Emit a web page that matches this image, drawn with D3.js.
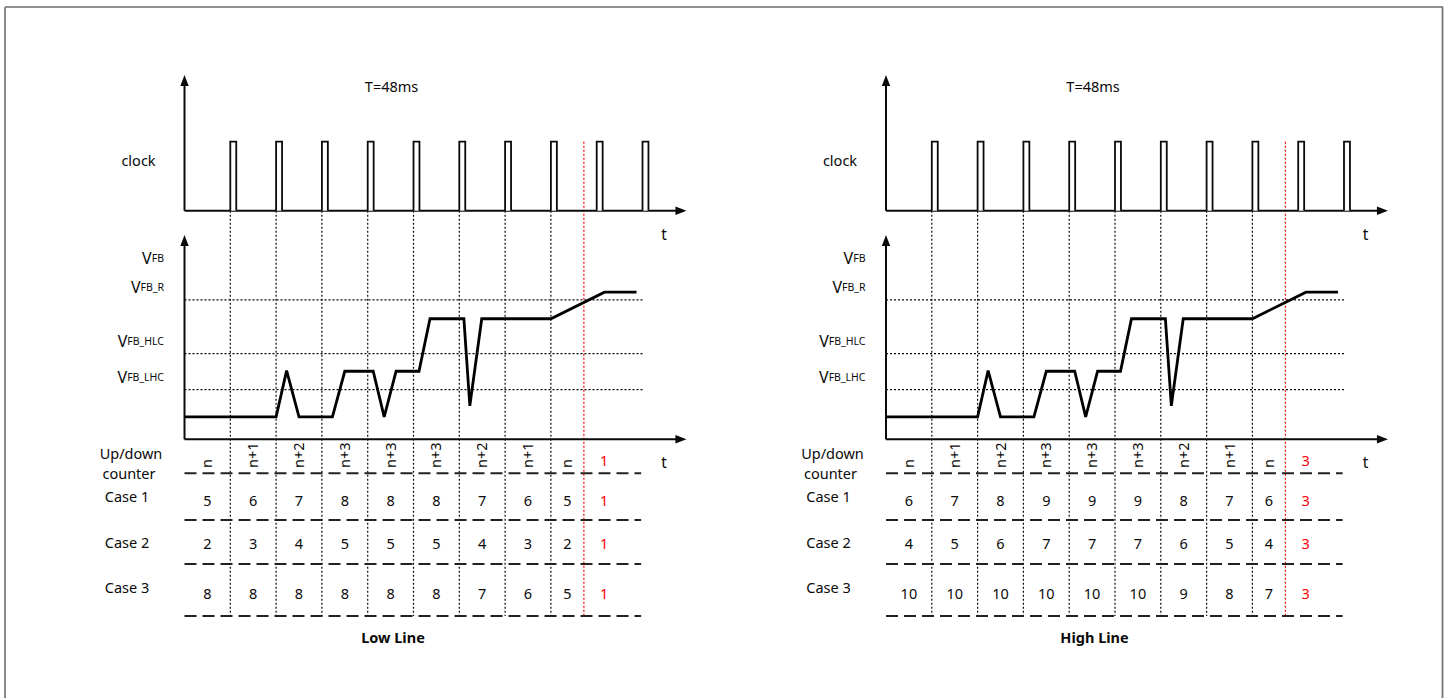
<!DOCTYPE html>
<html>
<head>
<meta charset="utf-8">
<script src="https://cdn.jsdelivr.net/npm/d3@7"></script>
<style>
  html, body { margin: 0; padding: 0; background: #fff; }
  svg { display: block; font-family: "Noto Sans", "Open Sans", sans-serif; }
</style>
</head>
<body>
<svg id="chart" width="1447" height="698"></svg>
<script>
// ---- data -------------------------------------------------------------
// rising edges of the sampling clock, in clock periods
const clockEdges = [1, 2, 3, 4, 5, 6, 7, 8, 9, 10];
// moment the counter is reset (red marker), in clock periods
const resetTime = 8.72;
// VFB trace: time (clock periods) and level (arbitrary units 0..100)
const vfbTime  = [0, 2, 2.23, 2.5, 3.23, 3.5, 4.12, 4.36, 4.62, 5.12, 5.36, 6.1, 6.23, 6.49, 8.0, 9.17, 9.87];
const vfbLevel = [11, 11, 33.6, 11, 11, 33.3, 33.3, 11, 33.3, 33.3, 59, 59, 16.4, 59, 59, 72, 72];
// comparator thresholds
const thresholdNames  = ["FB_R", "FB_HLC", "FB_LHC"];
const thresholdLevels = [68.2, 41.9, 24.3];
// up/down counter states per clock period
const counterLabels = ["n", "n+1", "n+2", "n+3", "n+3", "n+3", "n+2", "n+1", "n"];
const caseNames = ["Case 1", "Case 2", "Case 3"];
// low line counter values
const lowCase1 = [5, 6, 7, 8, 8, 8, 7, 6, 5];
const lowCase2 = [2, 3, 4, 5, 5, 5, 4, 3, 2];
const lowCase3 = [8, 8, 8, 8, 8, 8, 7, 6, 5];
const lowReset = 1;
// high line counter values
const highCase1 = [6, 7, 8, 9, 9, 9, 8, 7, 6];
const highCase2 = [4, 5, 6, 7, 7, 7, 6, 5, 4];
const highCase3 = [10, 10, 10, 10, 10, 10, 9, 8, 7];
const highReset = 3;
const panelTitles = ["Low Line", "High Line"];
const periodLabel = "T=48ms";

// ---- layout -----------------------------------------------------------
const svg = d3.select("#chart");
const INK = "#0a0a0a";
const RED = "#ff0000";

// outer frame
svg.append("line").attr("x1", 5).attr("x2", 1443).attr("y1", 7).attr("y2", 7)
  .attr("stroke", "#222").attr("stroke-width", 1.2);
svg.append("line").attr("x1", 5).attr("x2", 5).attr("y1", 7).attr("y2", 698)
  .attr("stroke", "#888").attr("stroke-width", 2);
svg.append("line").attr("x1", 1442.5).attr("x2", 1442.5).attr("y1", 7).attr("y2", 698)
  .attr("stroke", "#777").attr("stroke-width", 1.8);

// time axis shared by the clock, VFB and counter table
const x = d3.scaleLinear().domain([0, 11]).range([184.5, 184.5 + 11 * 45.8]);
const tEnd = 10.96;          // arrow tip
// clock panel
const yClock = d3.scaleLinear().domain([0, 1]).range([210.7, 141.7]);
const clockTop = 75;
// VFB panel
const yV = d3.scaleLinear().domain([0, 100]).range([439.3, 235]);
// counter table rows
const rowLines = [473.3, 520, 564, 616];
const rowCenters = [500, 543.3, 593.3];
const caseLabelY = [496, 541.7, 586.7];
// column boundaries (clock periods) of the counter table
const colBounds = [0, 1, 2, 3, 4, 5, 6, 7, 8, resetTime, 9.6];
const colCenters = d3.range(colBounds.length - 1).map(i => (colBounds[i] + colBounds[i + 1]) / 2);

function arrowUp(g, px, py) {
  g.append("path").attr("d", `M${px},${py} L${px - 4.2},${py + 11} L${px + 4.2},${py + 11} Z`).attr("fill", INK);
}
function arrowRight(g, px, py) {
  g.append("path").attr("d", `M${px},${py} L${px - 11},${py - 4.2} L${px - 11},${py + 4.2} Z`).attr("fill", INK);
}

function drawPanel(offset, cases, resetValue, title) {
  const g = svg.append("g").attr("transform", `translate(${offset},0)`);
  const x0 = x(0);

  // dotted clock-edge markers running through every panel
  g.selectAll("line.edge").data(clockEdges.slice(0, 8)).join("line")
    .attr("class", "edge")
    .attr("x1", d => x(d)).attr("x2", d => x(d))
    .attr("y1", yClock(0)).attr("y2", rowLines[3])
    .attr("stroke", INK).attr("stroke-width", 1.2).attr("stroke-dasharray", "2,2");

  // reset marker
  g.append("line")
    .attr("x1", x(resetTime)).attr("x2", x(resetTime))
    .attr("y1", yClock(1)).attr("y2", rowLines[3])
    .attr("stroke", RED).attr("stroke-width", 1.2).attr("stroke-dasharray", "2,2");

  // threshold lines
  g.selectAll("line.th").data(thresholdLevels).join("line")
    .attr("class", "th")
    .attr("x1", x0).attr("x2", x(10))
    .attr("y1", d => yV(d)).attr("y2", d => yV(d))
    .attr("stroke", INK).attr("stroke-width", 1.2).attr("stroke-dasharray", "2,2");

  // table row separators
  g.selectAll("line.row").data(rowLines).join("line")
    .attr("class", "row")
    .attr("x1", x0).attr("x2", x(9.97))
    .attr("y1", d => d).attr("y2", d => d)
    .attr("stroke", "#222").attr("stroke-width", 2).attr("stroke-dasharray", "12,6");

  // clock axes
  g.append("line").attr("x1", x0).attr("x2", x0).attr("y1", yClock(0)).attr("y2", clockTop + 4)
    .attr("stroke", INK).attr("stroke-width", 2);
  arrowUp(g, x0, clockTop);
  g.append("line").attr("x1", x0).attr("x2", x(tEnd) - 4).attr("y1", yClock(0)).attr("y2", yClock(0))
    .attr("stroke", INK).attr("stroke-width", 2);
  arrowRight(g, x(tEnd), yClock(0));

  // clock pulses
  const pw = 0.13;
  g.selectAll("path.pulse").data(clockEdges).join("path")
    .attr("class", "pulse")
    .attr("d", d => `M${x(d)},${yClock(0)} V${yClock(1)} H${x(d + pw)} V${yClock(0)}`)
    .attr("fill", "#fff").attr("stroke", INK).attr("stroke-width", 1.8);

  // VFB axes
  g.append("line").attr("x1", x0).attr("x2", x0).attr("y1", yV(0)).attr("y2", yV(100) + 4)
    .attr("stroke", INK).attr("stroke-width", 2);
  arrowUp(g, x0, yV(100));
  g.append("line").attr("x1", x0).attr("x2", x(tEnd) - 4).attr("y1", yV(0)).attr("y2", yV(0))
    .attr("stroke", INK).attr("stroke-width", 2);
  arrowRight(g, x(tEnd), yV(0));

  // VFB trace
  const trace = vfbTime.map((t, i) => [t, vfbLevel[i]]);
  g.append("path").datum(trace)
    .attr("d", d3.line().x(d => x(d[0])).y(d => yV(d[1])))
    .attr("fill", "none").attr("stroke", "#000").attr("stroke-width", 2.8)
    .attr("stroke-linejoin", "miter");

  // texts
  g.append("text").attr("x", x(4.5) + 1).attr("y", 86).attr("text-anchor", "middle")
    .attr("dominant-baseline", "central").attr("font-size", 14.5).attr("fill", INK).text(periodLabel);
  g.append("text").attr("x", 138.5).attr("y", 160).attr("text-anchor", "middle")
    .attr("dominant-baseline", "central").attr("font-size", 14.5).attr("fill", INK).text("clock");
  [yClock(0) + 23, yV(0) + 23].forEach(ty => {
    g.append("text").attr("x", x(10.47)).attr("y", ty).attr("text-anchor", "middle")
      .attr("dominant-baseline", "central").attr("font-size", 15.5).attr("fill", INK).text("t");
  });

  // VFB level labels
  const vLabel = (sub, ty) => {
    const t = g.append("text").attr("x", 164).attr("y", ty).attr("text-anchor", "end")
      .attr("dominant-baseline", "central").attr("fill", INK);
    t.append("tspan").attr("font-size", 16).text("V");
    t.append("tspan").attr("font-size", 10.5).text(sub);
  };
  vLabel("FB", 258);
  thresholdNames.forEach((n, i) => vLabel(n, yV(thresholdLevels[i]) - 12.5));

  // counter table labels
  g.append("text").attr("x", 131).attr("y", 453).attr("text-anchor", "middle")
    .attr("dominant-baseline", "central").attr("font-size", 14.5).attr("fill", INK).text("Up/down");
  g.append("text").attr("x", 129).attr("y", 473).attr("text-anchor", "middle")
    .attr("dominant-baseline", "central").attr("font-size", 14.5).attr("fill", INK).text("counter");
  caseNames.forEach((n, i) => {
    g.append("text").attr("x", 127).attr("y", caseLabelY[i]).attr("text-anchor", "middle")
      .attr("dominant-baseline", "central").attr("font-size", 14.5).attr("fill", INK).text(n);
  });

  // counter states (rotated)
  g.selectAll("text.state").data(counterLabels).join("text")
    .attr("class", "state")
    .attr("transform", (d, i) => `translate(${x(colCenters[i])},468) rotate(-90)`)
    .attr("text-anchor", "start").attr("dy", "0.35em")
    .attr("font-size", 14.5).attr("fill", INK).text(d => d);
  g.append("text").attr("x", x(colCenters[9])).attr("y", 460).attr("text-anchor", "middle")
    .attr("dominant-baseline", "central").attr("font-size", 14.5).attr("fill", RED).text(resetValue);

  // case values
  cases.forEach((vals, r) => {
    const all = vals.concat([resetValue]);
    g.selectAll(`text.v${r}`).data(all).join("text")
      .attr("class", `v${r}`)
      .attr("x", (d, i) => x(colCenters[i])).attr("y", rowCenters[r])
      .attr("text-anchor", "middle").attr("dominant-baseline", "central")
      .attr("font-size", 14.5).attr("fill", (d, i) => i === all.length - 1 ? RED : INK)
      .text(d => d);
  });

  // panel title
  g.append("text").attr("x", 393).attr("y", 637).attr("text-anchor", "middle")
    .attr("dominant-baseline", "central").attr("font-size", 14.5).attr("font-weight", "bold")
    .attr("fill", INK).text(title);
}

drawPanel(0, [lowCase1, lowCase2, lowCase3], lowReset, panelTitles[0]);
drawPanel(701.5, [highCase1, highCase2, highCase3], highReset, panelTitles[1]);
</script>
</body>
</html>
